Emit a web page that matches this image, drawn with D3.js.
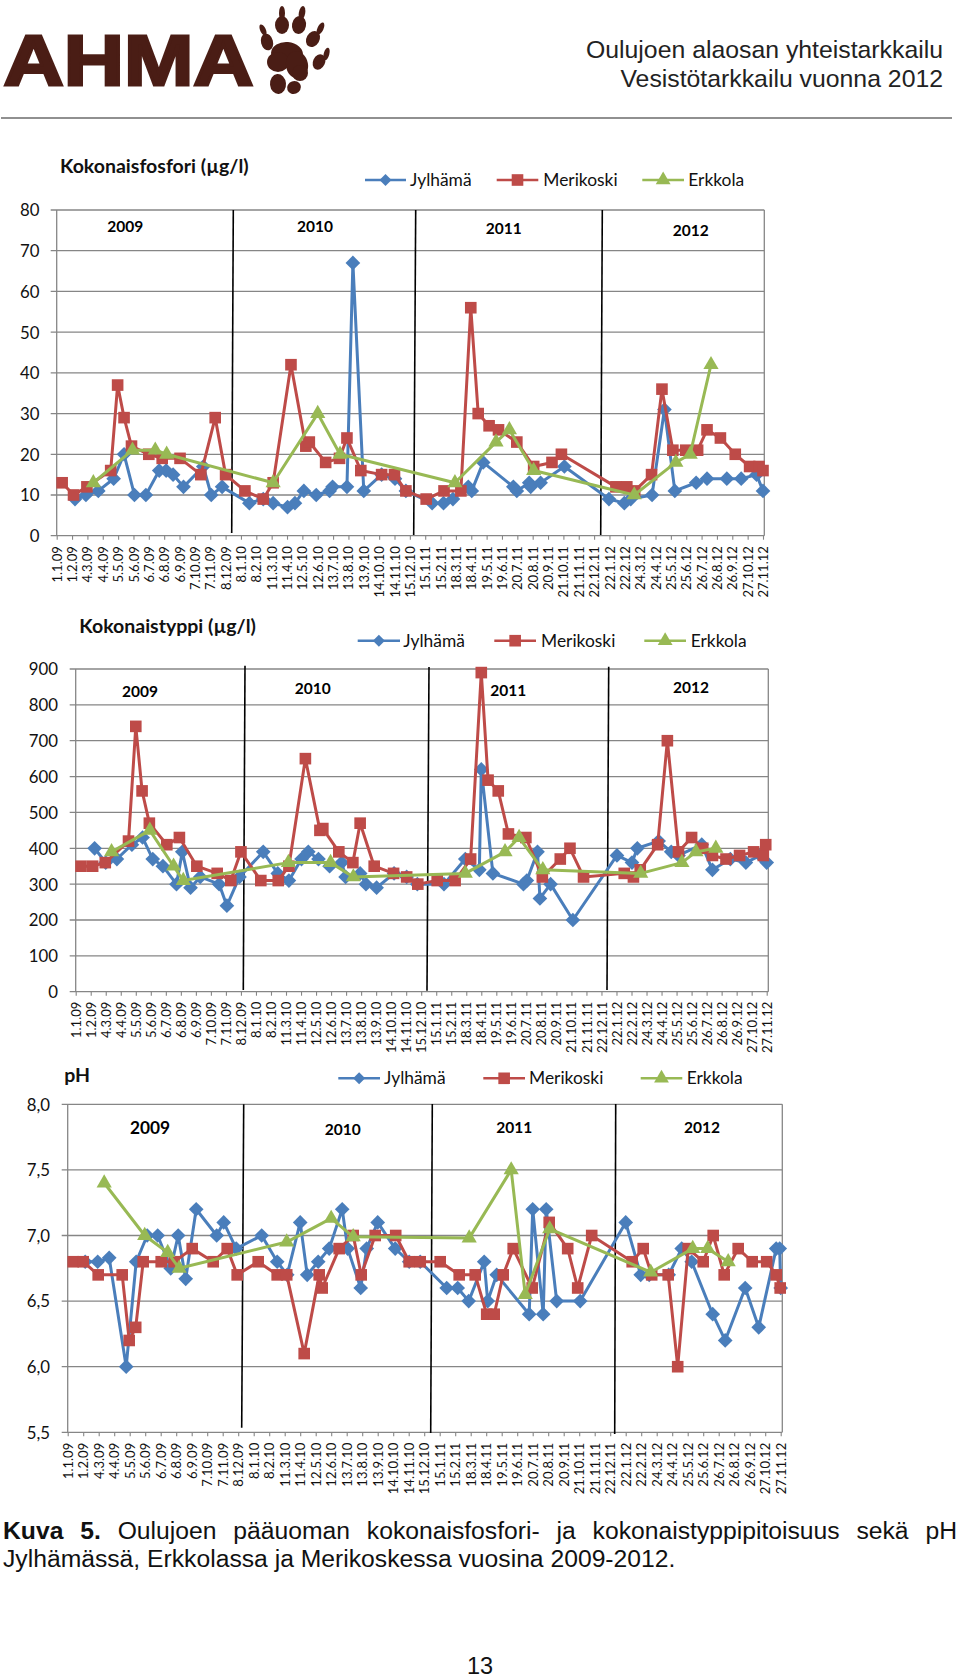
<!DOCTYPE html>
<html><head><meta charset="utf-8">
<script src="https://cdn.jsdelivr.net/npm/d3@7/dist/d3.min.js"></script>
<style>html,body{margin:0;padding:0;background:#fff}svg{display:block}</style>
</head><body><svg id="page" width="960" height="1677"></svg>
<script>
// x-axis tick labels (one tick every 31 days from 1.1.2009)
const tickLabels = ["1.1.09","1.2.09","4.3.09","4.4.09","5.5.09","5.6.09","6.7.09","6.8.09","6.9.09","7.10.09","7.11.09","8.12.09","8.1.10","8.2.10","11.3.10","11.4.10","12.5.10","12.6.10","13.7.10","13.8.10","13.9.10","14.10.10","14.11.10","15.12.10","15.1.11","15.2.11","18.3.11","18.4.11","19.5.11","19.6.11","20.7.11","20.8.11","20.9.11","21.10.11","21.11.11","22.12.11","22.1.12","22.2.12","24.3.12","24.4.12","25.5.12","25.6.12","26.7.12","26.8.12","26.9.12","27.10.12","27.11.12"];
const stations = ["Jylhämä","Merikoski","Erkkola"];
const years = ["2009","2010","2011","2012"];
// [days since 1.1.2009, value]
const tpJylhama = [[37,9],[59,10],[84,11],[115,14],[136,20],[157,10],[180,10],[207,16],[221,16],[235,15],[256,12],[296,17],[312,10],[334,12],[389,8],[417,9],[437,8],[466,7],[481,8],[499,11],[524,10],[551,11],[557,12],[586,12],[598,67],[620,11],[656,15],[683,14],[705,11],[758,8],[781,8],[800,9],[831,12],[838,11],[861,18],[922,12],[929,11],[954,13],[957,12],[977,13],[1025,17],[1115,9],[1146,8],[1159,9],[1202,10],[1227,31],[1248,11],[1291,13],[1313,14],[1353,14],[1382,14],[1413,15],[1426,11]];
const tpMerikoski = [[11,13],[34,10],[61,12],[109,16],[123,37],[136,29],[151,22],[186,20],[213,19],[249,19],[291,15],[320,29],[341,15],[380,11],[417,9],[437,13],[473,42],[503,22],[510,23],[543,18],[571,19],[586,24],[614,16],[656,15],[682,15],[705,11],[746,9],[782,11],[816,11],[836,56],[851,30],[873,27],[892,26],[929,23],[963,17],[1000,18],[1019,20],[1129,12],[1151,12],[1167,11],[1201,15],[1222,36],[1244,21],[1270,21],[1294,21],[1313,26],[1340,24],[1370,20],[1399,17],[1418,17],[1426,16]];
const tpErkkola = [[74,13],[153,21],[199,21],[222,20],[437,13],[527,30],[572,20],[804,13],[887,23],[914,26],[963,16],[1166,10],[1250,18],[1279,20],[1321,42]];
const tnJylhama = [[39,400],[62,360],[85,370],[116,410],[138,430],[159,370],[180,350],[208,300],[220,390],[237,290],[257,320],[296,300],[312,240],[338,320],[387,390],[417,330],[440,310],[466,370],[480,390],[501,370],[524,350],[549,360],[557,320],[587,330],[599,300],[621,290],[657,330],[683,320],[705,300],[760,300],[804,370],[833,340],[837,620],[861,330],[924,300],[931,310],[953,390],[958,260],[980,300],[1026,200],[1117,380],[1148,360],[1159,400],[1203,420],[1229,390],[1244,380],[1292,410],[1314,340],[1351,370],[1383,360],[1413,380],[1426,360]];
const tnMerikoski = [[11,350],[35,350],[61,360],[109,420],[124,740],[137,560],[152,470],[188,410],[214,430],[250,350],[292,330],[320,310],[341,390],[382,310],[418,310],[440,350],[474,650],[504,450],[510,455],[543,390],[572,360],[587,470],[616,350],[656,330],[683,320],[706,300],[746,310],[783,310],[815,370],[837,890],[851,590],[872,560],[893,440],[929,430],[963,320],[1000,370],[1020,400],[1048,320],[1132,330],[1151,320],[1165,340],[1201,410],[1221,700],[1244,390],[1271,430],[1294,400],[1314,380],[1342,370],[1370,380],[1399,390],[1419,380],[1424,410]];
const tnErkkola = [[74,390],[153,450],[202,350],[222,310],[439,360],[526,360],[573,320],[804,330],[886,390],[915,430],[964,340],[1166,330],[1251,360],[1280,390],[1321,400]];
const phJylhama = [[35,6.8],[60,6.8],[83,6.83],[117,6.0],[137,6.8],[159,7.0],[180,7.0],[206,6.75],[221,7.0],[236,6.67],[257,7.2],[298,7.0],[312,7.1],[337,6.9],[388,7.0],[419,6.8],[439,6.7],[465,7.1],[479,6.7],[501,6.8],[523,6.9],[549,7.2],[560,6.9],[586,6.6],[598,6.9],[620,7.1],[655,6.9],[683,6.8],[705,6.8],[758,6.6],[780,6.6],[802,6.5],[833,6.8],[840,6.5],[858,6.7],[923,6.4],[930,7.2],[951,6.4],[957,7.2],[978,6.5],[1025,6.5],[1116,7.1],[1146,6.7],[1163,6.7],[1202,6.7],[1228,6.9],[1248,6.8],[1290,6.4],[1315,6.2],[1355,6.6],[1382,6.3],[1417,6.9],[1424,6.9],[1426,6.6]];
const phMerikoski = [[11,6.8],[31,6.8],[61,6.7],[109,6.7],[123,6.2],[136,6.3],[151,6.8],[187,6.8],[213,6.8],[249,6.9],[291,6.8],[319,6.9],[339,6.7],[381,6.8],[419,6.7],[438,6.7],[473,6.1],[503,6.7],[509,6.6],[543,6.9],[571,7.0],[587,6.7],[615,7.0],[656,7.0],[683,6.8],[705,6.8],[745,6.8],[783,6.7],[815,6.7],[838,6.4],[853,6.4],[871,6.7],[891,6.9],[929,6.6],[963,7.1],[1000,6.9],[1020,6.6],[1048,7.0],[1129,6.8],[1151,6.9],[1168,6.7],[1201,6.7],[1220,6.0],[1241,6.9],[1271,6.8],[1291,7.0],[1313,6.7],[1341,6.9],[1369,6.8],[1398,6.8],[1417,6.7],[1425,6.6]];
const phErkkola = [[73,7.4],[154,7.0],[200,6.87],[223,6.75],[438,6.95],[527,7.13],[571,6.99],[803,6.98],[887,7.5],[915,6.55],[964,7.05],[1166,6.72],[1250,6.9],[1280,6.9],[1321,6.8]];
const tpTicks = [0,10,20,30,40,50,60,70,80];
const tnTicks = [0,100,200,300,400,500,600,700,800,900];
const phTicks = [5.5,6,6.5,7,7.5,8];

const COL = {blue:"#4a7ebb", red:"#be4b48", green:"#98b954", grid:"#868686"};
const LATO = "Lato, Carlito, 'Open Sans', sans-serif";
const SANS = "'Liberation Sans', Arial, sans-serif";
const svg = d3.select("#page");
const dayMax = 31*46;

// ---------- header ----------
const head = svg.append("g");
head.append("text").text("AHMA").attr("x",3.5).attr("y",84.6)
  .attr("font-family",SANS).attr("font-weight",700).attr("font-size",70.5)
  .attr("textLength",250).attr("lengthAdjust","spacingAndGlyphs")
  .attr("fill","#4a1d15").attr("stroke","#4a1d15").attr("stroke-width",2.8);
const pawParts = [[282,25,7,9,0],[282,13,3,7,0],[299,25,7,9,10],[302,13,3.2,7,10],[267,42,6,8.5,-15],[263,30,2.8,6,-25],[313,39,6.5,8.5,30],[320.5,28.5,3,6.5,25],[319,62,6,8,25],[326.5,54,2.8,6.5,15],[287,54,16,12,5],[278,62,11,10,0],[297,65,11,14,-10],[300,73,8,8,0],[278,84,8,10,-5],[294,87.5,7,6.3,-20]];
head.selectAll("ellipse").data(pawParts).join("ellipse")
  .attr("transform",d=>`translate(${d[0]},${d[1]}) rotate(${d[4]})`)
  .attr("rx",d=>d[2]).attr("ry",d=>d[3]).attr("fill","#4a1d15");
[["Oulujoen alaosan yhteistarkkailu",58],["Vesistötarkkailu vuonna 2012",87]].forEach(([t,y])=>{
  head.append("text").text(t).attr("x",943).attr("y",y).attr("text-anchor","end")
    .attr("font-family",SANS).attr("font-size",24.8).attr("fill","#222");
});
head.append("line").attr("x1",1).attr("x2",952).attr("y1",118).attr("y2",118).attr("stroke","#222").attr("stroke-width",1.2);

// ---------- charts ----------
const sym = {
  diamond:(s=108)=>({d:d3.symbol(d3.symbolSquare,s)(),rot:45}),
  square:(s=135)=>({d:d3.symbol(d3.symbolSquare,s)(),rot:0}),
  triangle:(s=100)=>({d:d3.symbol(d3.symbolTriangle,s)(),rot:0})
};
function drawMarker(sel,x,y,m,fill){
  sel.append("path").attr("d",m.d).attr("fill",fill).attr("transform",`translate(${x},${y}) rotate(${m.rot})`);
}
function chart(o){
  const g = svg.append("g");
  const x = d3.scaleLinear().domain([0,dayMax]).range([o.x0,o.x1]);
  const y = d3.scaleLinear().domain(o.domain).range([o.y0,o.y1]);
  // gridlines + y axis
  const ay = g.append("g").attr("transform",`translate(${o.x0},0)`)
    .call(d3.axisLeft(y).tickValues(o.ticks).tickFormat(o.fmt).tickSize(0));
  ay.select(".domain").remove();
  ay.selectAll("line").remove();
  ay.selectAll("text").attr("x",o.yLabelX-o.x0).attr("dy","0.35em")
    .attr("font-family",LATO).attr("font-size",16.8).attr("fill","#111");
  g.append("g").selectAll("line").data(o.ticks).join("line")
    .attr("x1",o.x0-6).attr("x2",o.right).attr("y1",d=>y(d)).attr("y2",d=>y(d))
    .attr("stroke",COL.grid).attr("stroke-width",1.3);
  g.append("line").attr("x1",o.x0).attr("x2",o.x0).attr("y1",o.y0).attr("y2",o.y1).attr("stroke",COL.grid).attr("stroke-width",1.3);
  g.append("line").attr("x1",o.right).attr("x2",o.right).attr("y1",o.y0).attr("y2",o.y1).attr("stroke",COL.grid).attr("stroke-width",1.3);
  // x axis
  const ax = g.append("g").attr("transform",`translate(0,${o.y0})`)
    .call(d3.axisBottom(x).tickValues(tickLabels.map((_,i)=>i*31)).tickFormat((_,i)=>tickLabels[i]).tickSize(4));
  ax.select(".domain").remove();
  ax.selectAll("line").attr("stroke",COL.grid).attr("stroke-width",1.1);
  ax.selectAll("text").attr("transform","rotate(-90)").attr("text-anchor","end")
    .attr("x",-o.labelGap).attr("y",0).attr("dy","0.35em")
    .attr("font-family",LATO).attr("font-size",13).attr("fill","#111");
  // year dividers
  g.append("g").selectAll("line").data(o.dividers).join("line")
    .attr("x1",d=>d[0]).attr("y1",d=>d[1]).attr("x2",d=>d[2]).attr("y2",d=>d[3])
    .attr("stroke","#000").attr("stroke-width",1.6);
  // series
  const line = d3.line().x(d=>x(d[0])).y(d=>y(d[1]));
  o.series.forEach((s,i)=>{
    const c = [COL.blue,COL.red,COL.green][i];
    g.append("path").attr("d",line(s)).attr("fill","none").attr("stroke",c).attr("stroke-width",3).attr("stroke-linejoin","round");
    const m = [sym.diamond(),sym.square(),sym.triangle()][i];
    s.forEach(d=>drawMarker(g,x(d[0]),y(d[1]),m,c));
  });
  // year labels
  years.forEach((t,i)=>{
    g.append("text").text(t).attr("x",o.yearPos[i][0]).attr("y",o.yearPos[i][1]).attr("dy","0.35em")
      .attr("text-anchor","middle").attr("font-family",LATO).attr("font-weight",700)
      .attr("font-size",o.yearSize[i]).attr("fill","#000");
  });
  // title
  g.append("text").text(o.title).attr("x",o.titleX).attr("y",o.titleY).attr("dy","0.35em")
    .attr("font-family",LATO).attr("font-weight",700).attr("font-size",o.titleSize).attr("fill","#111");
  // legend
  stations.forEach((t,i)=>{
    const l = o.legend[i], c = [COL.blue,COL.red,COL.green][i];
    g.append("line").attr("x1",l[0]).attr("x2",l[1]).attr("y1",o.legendY).attr("y2",o.legendY).attr("stroke",c).attr("stroke-width",2.6);
    drawMarker(g,(l[0]+l[1])/2,o.legendY,[sym.diamond(72),sym.square(135),sym.triangle(95)][i],c);
    g.append("text").text(t).attr("x",l[2]).attr("y",o.legendY).attr("dy","0.35em")
      .attr("font-family",LATO).attr("font-size",17.4).attr("fill","#111");
  });
}
chart({title:"Kokonaisfosfori (µg/l)",titleSize:19.5,titleX:60,titleY:166,domain:[0,80],ticks:tpTicks,fmt:d3.format("d"),
  x0:56.7,x1:763,right:764.3,y0:535.7,y1:210,yLabelX:39.5,labelGap:10.5,
  dividers:[[233.3,210,231.7,533],[415.7,210,413.7,535],[602.3,210,600.7,535]],
  yearPos:[[125.3,227],[315,227],[503.7,228.7],[690.7,230.7]],yearSize:[15.5,15.5,15.5,15.5],
  legendY:180,legend:[[365,406,410],[496.7,538.3,543.3],[642.3,684,688.3]],
  series:[tpJylhama,tpMerikoski,tpErkkola]});
chart({title:"Kokonaistyppi (µg/l)",titleSize:19.5,titleX:79.3,titleY:625.7,domain:[0,900],ticks:tnTicks,fmt:d3.format("d"),
  x0:75.7,x1:766.7,right:768.3,y0:991.7,y1:669,yLabelX:58,labelGap:10,
  dividers:[[245,665.7,243.3,990],[429,667,427,990.7],[608.7,666.7,607,990]],
  yearPos:[[140,691.7],[312.7,689],[508.3,690.3],[691,687.7]],yearSize:[15.5,15.5,15.5,15.5],
  legendY:640.7,legend:[[357.7,400,403.3],[494.3,536,541],[644.3,686,690.7]],
  series:[tnJylhama,tnMerikoski,tnErkkola]});
chart({title:"pH",titleSize:19.5,titleX:64.3,titleY:1075,domain:[5.5,8],ticks:phTicks,fmt:d=>d3.format(".1f")(d).replace(".",","),
  x0:67.7,x1:780.7,right:782.3,y0:1432.3,y1:1104.3,yLabelX:50,labelGap:10.5,
  dividers:[[243.7,1104.3,241.7,1427.7],[432.3,1104,430.7,1433],[615.7,1104,614.7,1434]],
  yearPos:[[150,1127.7],[342.7,1129.7],[514.3,1127.7],[702,1127.7]],yearSize:[17.3,15.5,15.5,15.5],
  legendY:1078.3,legend:[[338.3,380,384],[483.3,525,529],[640.7,682.3,686.7]],
  series:[phJylhama,phMerikoski,phErkkola]});

// ---------- caption ----------
const cap = svg.append("text").attr("x",3).attr("y",1539).attr("font-family",SANS).attr("font-size",24.7).attr("fill","#111");
cap.append("tspan").text("Kuva 5.").attr("font-weight",700);
cap.append("tspan").text(" Oulujoen pääuoman kokonaisfosfori- ja kokonaistyppipitoisuus sekä pH");
const gaps = 8, extra = (957-3-cap.node().getComputedTextLength())/gaps;
cap.style("word-spacing",extra+"px");
svg.append("text").text("Jylhämässä, Erkkolassa ja Merikoskessa vuosina 2009-2012.").attr("x",3).attr("y",1567)
  .attr("font-family",SANS).attr("font-size",24.7).attr("fill","#111");
svg.append("text").text("13").attr("x",480).attr("y",1674).attr("text-anchor","middle")
  .attr("font-family",SANS).attr("font-size",23.5).attr("fill","#111");
</script></body></html>
